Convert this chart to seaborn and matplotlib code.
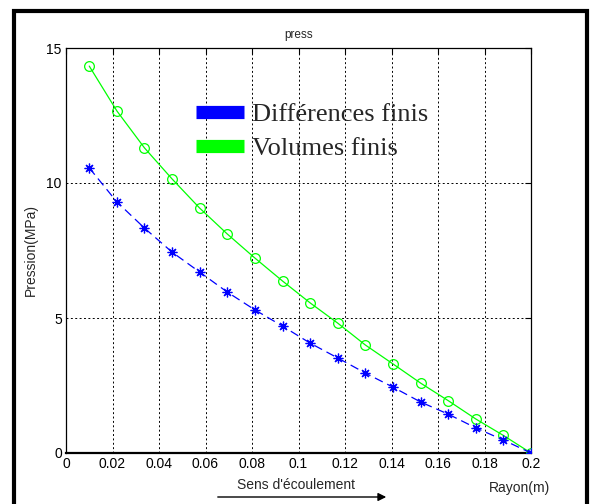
import numpy as np
import pandas as pd
import matplotlib
matplotlib.use("Agg")
import matplotlib.pyplot as plt
import seaborn as sns
from matplotlib.lines import Line2D
from matplotlib.patches import Rectangle, FancyArrowPatch
from matplotlib.ticker import FormatStrFormatter

rayon = [0.01, 0.021875, 0.03375, 0.045625, 0.0575, 0.069375, 0.08125, 0.093125,
         0.105, 0.116875, 0.12875, 0.140625, 0.1525, 0.164375, 0.17625, 0.188125, 0.2]
diff_finis = [10.56, 9.30, 8.33, 7.44, 6.70, 5.96, 5.30, 4.70,
              4.07, 3.52, 2.96, 2.44, 1.89, 1.44, 0.93, 0.48, 0.0]
vol_finis = [14.33, 12.67, 11.30, 10.15, 9.07, 8.11, 7.22, 6.37,
             5.56, 4.81, 4.00, 3.30, 2.59, 1.94, 1.26, 0.65, 0.0]
labels = ["Différences finis", "Volumes finis"]
xticks = [0, 0.02, 0.04, 0.06, 0.08, 0.1, 0.12, 0.14, 0.16, 0.18, 0.2]
yticks = [0, 5, 10, 15]

sns.set_style("white")
plt.rcParams['font.family'] = ['Liberation Sans', 'DejaVu Sans']

W, H = 593, 504
fig = plt.figure(figsize=(W / 100, H / 100), dpi=100)
ax = fig.add_axes([66 / W, 1 - 453 / H, (531 - 66) / W, (453 - 48) / H])

df = pd.DataFrame({"r": rayon, "df": diff_finis, "vf": vol_finis})
blue = (0, 0, 1)
green = (0, 1, 0)
sns.lineplot(data=df, x="r", y="vf", ax=ax, color=green, marker="o", markersize=7,
             markerfacecolor="none", markeredgecolor=green, markeredgewidth=0.9,
             linewidth=0.9, linestyle="-", zorder=3)
sns.lineplot(data=df, x="r", y="df", ax=ax, color=blue, marker=(8, 2, 0), markersize=7,
             markeredgecolor=blue, markeredgewidth=0.9,
             linewidth=0.9, linestyle=(0, (7, 4)), zorder=4)

ax.set_xlim(0, 0.2)
ax.set_ylim(0, 15)
ax.set_xticks(xticks)
ax.set_yticks(yticks)
ax.xaxis.set_major_formatter(FormatStrFormatter('%g'))
ax.yaxis.set_major_formatter(FormatStrFormatter('%g'))
ax.tick_params(direction="in", length=4, width=0.8, colors="black", labelsize=10,
               top=True, right=True, pad=3)
ax.grid(True, color="black", linestyle=(0, (2, 2.5)), linewidth=0.7)
for s in ax.spines.values():
    s.set_visible(True)
    s.set_color("black")
    s.set_linewidth(0.9)
ax.spines["bottom"].set_linewidth(1.6)

ax.set_xlabel("")
ax.set_ylabel("Pression(MPa)", fontsize=10, labelpad=6)
ax.set_title("press", fontsize=8.5, pad=7)

handles = [Line2D([0], [0], color=blue, linewidth=9.5, solid_capstyle="butt"),
           Line2D([0], [0], color=green, linewidth=9.5, solid_capstyle="butt")]
leg = fig.legend(handles, labels, loc="upper left", bbox_to_anchor=(196 / W, 1 - 103 / H),
                 frameon=False, prop={"family": "Liberation Serif", "size": 19},
                 handlelength=1.82, handletextpad=0.3, labelspacing=0.38,
                 borderpad=0, borderaxespad=0)

fig.text(296 / W, 1 - 485 / H, "Sens d'écoulement", ha="center", va="center", fontsize=10)
fig.text(520 / W, 1 - 488 / H, "Rayon(m)", ha="center", va="center", fontsize=10)
arrow = FancyArrowPatch((215 / W, 1 - 497 / H), (389 / W, 1 - 497 / H),
                        transform=fig.transFigure, arrowstyle="-|>", mutation_scale=12,
                        color="black", linewidth=1.0)
fig.add_artist(arrow)

frame = Rectangle((14 / W, -0.2), (587 - 14) / W, 1.2 - 11.5 / H,
                  transform=fig.transFigure, fill=False, edgecolor="black", linewidth=3)
fig.add_artist(frame)

fig.savefig("out.png", dpi=100)
